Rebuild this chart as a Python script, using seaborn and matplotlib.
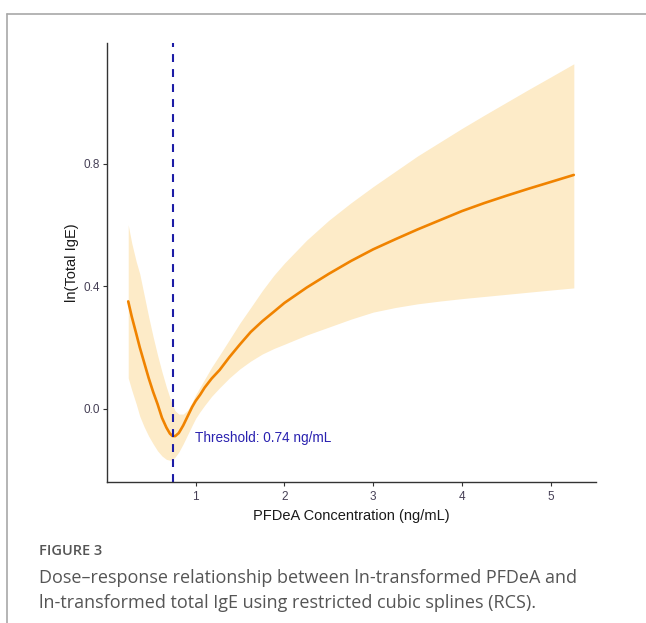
import numpy as np
import pandas as pd
import seaborn as sns
import matplotlib.pyplot as plt
from matplotlib.lines import Line2D

# values
pfdea = [0.24, 0.28, 0.33, 0.37, 0.42, 0.47, 0.52, 0.57, 0.62, 0.67, 0.71, 0.74, 0.77,
         0.81, 0.86, 0.91, 0.96, 1.00, 1.05, 1.10, 1.18, 1.27, 1.38, 1.50, 1.62, 1.75,
         1.88, 2.00, 2.25, 2.50, 2.75, 3.00, 3.25, 3.50, 3.75, 4.00, 4.25, 4.50, 4.75,
         5.00, 5.26]
ln_ige = [0.350, 0.300, 0.245, 0.200, 0.150, 0.100, 0.055, 0.015, -0.030, -0.062,
          -0.082, -0.090, -0.090, -0.080, -0.055, -0.025, 0.005, 0.025, 0.045, 0.068,
          0.098, 0.126, 0.168, 0.210, 0.250, 0.285, 0.316, 0.345, 0.395, 0.440, 0.482,
          0.520, 0.553, 0.585, 0.615, 0.645, 0.671, 0.695, 0.718, 0.740, 0.763]
ci_upper = [0.600, 0.540, 0.480, 0.440, 0.370, 0.300, 0.235, 0.175, 0.120, 0.070,
            0.035, 0.010, -0.008, -0.018, -0.018, -0.005, 0.020, 0.045, 0.070, 0.095,
            0.135, 0.175, 0.225, 0.280, 0.330, 0.385, 0.435, 0.475, 0.550, 0.615, 0.672,
            0.725, 0.775, 0.825, 0.870, 0.915, 0.958, 1.000, 1.042, 1.083, 1.126]
ci_lower = [0.100, 0.060, 0.015, -0.025, -0.060, -0.090, -0.115, -0.138, -0.155, -0.166,
            -0.169, -0.166, -0.158, -0.142, -0.115, -0.085, -0.055, -0.032, -0.010, 0.010,
            0.040, 0.068, 0.100, 0.130, 0.155, 0.178, 0.196, 0.210, 0.240, 0.266, 0.292,
            0.315, 0.330, 0.342, 0.351, 0.359, 0.366, 0.373, 0.380, 0.387, 0.394]
threshold = 0.74
x_ticks = [1, 2, 3, 4, 5]
y_ticks = [0.0, 0.4, 0.8]

df = pd.DataFrame({"pfdea": pfdea, "ige": ln_ige, "lo": ci_lower, "hi": ci_upper})

sns.set_theme(style="ticks")
plt.rcParams["font.family"] = ["Liberation Sans", "DejaVu Sans"]

fig = plt.figure(figsize=(6.46, 6.23), dpi=100)
ax = fig.add_axes([0.1655, 0.2268, 0.9226 - 0.1655, 0.9315 - 0.2268])

ax.fill_between(df["pfdea"], df["lo"], df["hi"], color="#fdebc8", lw=0)
sns.lineplot(data=df, x="pfdea", y="ige", ax=ax, color="#f08300", lw=1.9)
ax.axvline(threshold, color="#1c1ca6", lw=1.5, ls=(0, (3.8, 3.4)))
ax.text(threshold + 0.25, -0.095, "Threshold: 0.74 ng/mL", color="#2a22b0",
        fontsize=9.8, va="center", ha="left")

ax.set_xlim(0, 5.51)
ax.set_ylim(-0.239, 1.195)
ax.set_xticks(x_ticks)
ax.set_xticklabels([str(t) for t in x_ticks])
ax.set_yticks(y_ticks)
ax.set_yticklabels([f"{t:.1f}" for t in y_ticks])
ax.set_xlabel("PFDeA Concentration (ng/mL)", fontsize=10.5, color="#1a1a1a", labelpad=4)
ax.set_ylabel("ln(Total IgE)", fontsize=10.5, color="#1a1a1a", labelpad=3)
ax.tick_params(labelsize=8.5, labelcolor="#453f55", color="#333333", length=3,
               width=0.8)
ax.tick_params(axis="x", pad=4)
ax.tick_params(axis="y", pad=2)
sns.despine(ax=ax)
for s in ["left", "bottom"]:
    ax.spines[s].set_color("#333333")
    ax.spines[s].set_linewidth(1.0)

# page frame lines
fig.add_artist(Line2D([7 / 646, 1], [1 - 14 / 623, 1 - 14 / 623], color="#a8a8a8", lw=1.2))
fig.add_artist(Line2D([7 / 646, 7 / 646], [0, 1 - 14 / 623], color="#a8a8a8", lw=1.2))

# caption
cap = dict(family=["Open Sans", "DejaVu Sans"], color="#555555")
fig.text(39 / 646, 1 - 551 / 623, "FIGURE 3", fontsize=10.5, fontweight="semibold",
         va="center", **cap)
fig.text(39 / 646, 1 - 578 / 623,
         "Dose\u2013response relationship between ln-transformed PFDeA and",
         fontsize=13, va="center", **cap)
fig.text(39 / 646, 1 - 603 / 623,
         "ln-transformed total IgE using restricted cubic splines (RCS).",
         fontsize=13, va="center", **cap)

fig.savefig("out.png", dpi=100)
